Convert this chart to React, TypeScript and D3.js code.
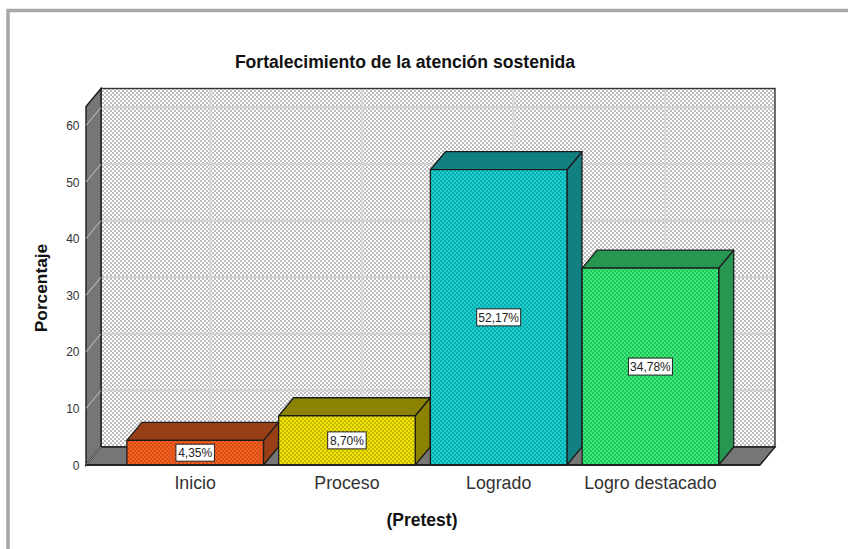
import React from "react";
import * as d3 from "d3";

const categories = ["Inicio", "Proceso", "Logrado", "Logro destacado"];
const values = [4.35, 8.7, 52.17, 34.78];
const valueLabels = ["4,35%", "8,70%", "52,17%", "34,78%"];
const frontColors = ["#fb5f1c", "#f2e400", "#17d2d2", "#36ee76"];
const dotColors = ["#cf4e1c", "#c4b800", "#10a8a8", "#28c060"];
const topColors = ["#993f18", "#8a8200", "#128080", "#269650"];
const yTicks = [0, 10, 20, 30, 40, 50, 60];
const titleText = "Fortalecimiento de la atención sostenida";
const yTitle = "Porcentaje";
const xTitle = "(Pretest)";

const W = 848;
const H = 549;
const DX = 15;
const DY = -18;
const FRONT_LEFT = 86;
const FRONT_RIGHT = 760;
const WALL_TOP = 88.5;

const y = d3.scaleLinear().domain([0, 60]).range([465, 125.4]);
const x = d3
  .scaleBand<string>()
  .domain(categories)
  .range([119.3, 726.3])
  .paddingInner(0.1)
  .paddingOuter(0.05);

const poly = (pts: [number, number][]) => {
  const p = d3.path();
  pts.forEach(([a, b], i) => (i ? p.lineTo(a, b) : p.moveTo(a, b)));
  p.closePath();
  return p.toString();
};

const FONT = "Liberation Sans, Arial, sans-serif";
const EDGE = "#1c1c1c";

function Dots({ id, bg, fg, size = 2 }: { id: string; bg: string; fg: string; size?: number }) {
  return (
    <pattern id={id} width={4} height={4} patternUnits="userSpaceOnUse">
      <rect width={4} height={4} fill={bg} />
      <rect x={0} y={0} width={size} height={size} fill={fg} />
      <rect x={2} y={2} width={size} height={size} fill={fg} />
    </pattern>
  );
}

export default function App() {
  const y0 = y(0);
  const wallL = FRONT_LEFT + DX;
  const wallR = FRONT_RIGHT + DX;
  const wallB = y0 + DY;
  return (
    <svg
      width={W}
      height={H}
      viewBox={`0 0 ${W} ${H}`}
      style={{ position: "absolute", left: 0, top: 0, background: "#fff" }}
    >
      <defs>
        <Dots id="wall" bg="#ffffff" fg="#bdbdbd" />
        {categories.map((c, i) => (
          <Dots key={c} id={`bar${i}`} bg={frontColors[i]} fg={dotColors[i]} />
        ))}
      </defs>

      <path d={`M8 549V10.5H848`} fill="none" stroke="#a8a8a8" strokeWidth={3.5} />

      <text x={405} y={68} textAnchor="middle" fontFamily={FONT} fontWeight={700} fontSize={17.6} fill="#111">
        {titleText}
      </text>

      {/* back wall */}
      <rect x={wallL} y={WALL_TOP} width={wallR - wallL} height={wallB - WALL_TOP} fill="url(#wall)" />
      {categories.map((c) => {
        const gx = (x(c) as number) + x.bandwidth() / 2 + DX;
        return <line key={c} x1={gx} x2={gx} y1={WALL_TOP} y2={wallB} stroke="#d8d8d8" strokeWidth={2.2} />;
      })}
      {yTicks.slice(1).map((t) => (
        <line key={t} x1={wallL} x2={wallR} y1={y(t) + DY} y2={y(t) + DY} stroke="#d2d2d2" strokeWidth={2.2} />
      ))}
      <rect x={wallL} y={WALL_TOP} width={wallR - wallL} height={wallB - WALL_TOP} fill="none" stroke="#333" strokeWidth={1.4} />

      {/* left wall */}
      <path
        d={poly([
          [FRONT_LEFT, y0],
          [wallL, wallB],
          [wallL, WALL_TOP],
          [FRONT_LEFT, WALL_TOP - DY],
        ])}
        fill="#767676"
        stroke={EDGE}
        strokeWidth={1.4}
      />
      {yTicks.slice(1).map((t) => (
        <line key={t} x1={FRONT_LEFT} x2={wallL} y1={y(t)} y2={y(t) + DY} stroke="#c8c8c8" strokeWidth={1} />
      ))}

      {/* floor */}
      <path
        d={poly([
          [FRONT_LEFT, y0],
          [wallL, wallB],
          [wallR, wallB],
          [FRONT_RIGHT, y0],
        ])}
        fill="#767676"
        stroke={EDGE}
        strokeWidth={1.4}
      />
      <line x1={FRONT_LEFT} x2={wallL} y1={y0} y2={wallB} stroke="#b0b0b0" strokeWidth={1} />

      {/* bars */}
      {categories.map((c, i) => {
        const bx = x(c) as number;
        const bw = x.bandwidth();
        const by = y(values[i]);
        return (
          <g key={c} stroke={EDGE} strokeWidth={1.3} strokeLinejoin="round">
            <path
              d={poly([
                [bx + bw, y0],
                [bx + bw + DX, y0 + DY],
                [bx + bw + DX, by + DY],
                [bx + bw, by],
              ])}
              fill={topColors[i]}
            />
            <path
              d={poly([
                [bx, by],
                [bx + DX, by + DY],
                [bx + bw + DX, by + DY],
                [bx + bw, by],
              ])}
              fill={topColors[i]}
            />
            <rect x={bx} y={by} width={bw} height={y0 - by} fill={`url(#bar${i})`} />
          </g>
        );
      })}

      {/* value labels */}
      {categories.map((c, i) => {
        const cx = (x(c) as number) + x.bandwidth() / 2;
        const cy = (y(values[i]) + y0) / 2;
        const w = i < 2 ? 38.5 : 44;
        return (
          <g key={c}>
            <rect x={cx - w / 2} y={cy - 8.5} width={w} height={17} fill="#fff" stroke="#222" strokeWidth={1} />
            <text x={cx} y={cy + 4.2} textAnchor="middle" fontFamily={FONT} fontSize={12} fill="#222">
              {valueLabels[i]}
            </text>
          </g>
        );
      })}

      {/* axes */}
      <line x1={FRONT_LEFT} x2={FRONT_RIGHT} y1={y0} y2={y0} stroke={EDGE} strokeWidth={1.6} />
      {yTicks.map((t) => (
        <text key={t} x={79.5} y={y(t) + 4.5} textAnchor="end" fontFamily={FONT} fontSize={12} fill="#333">
          {t}
        </text>
      ))}
      {categories.map((c) => (
        <text
          key={c}
          x={(x(c) as number) + x.bandwidth() / 2}
          y={488.5}
          textAnchor="middle"
          fontFamily={FONT}
          fontSize={17.8}
          fill="#333"
        >
          {c}
        </text>
      ))}
      <text x={422} y={526} textAnchor="middle" fontFamily={FONT} fontWeight={700} fontSize={17.5} fill="#111">
        {xTitle}
      </text>
      <text
        transform="translate(47,288) rotate(-90)"
        textAnchor="middle"
        fontFamily={FONT}
        fontWeight={700}
        fontSize={17.3}
        fill="#111"
      >
        {yTitle}
      </text>
    </svg>
  );
}
